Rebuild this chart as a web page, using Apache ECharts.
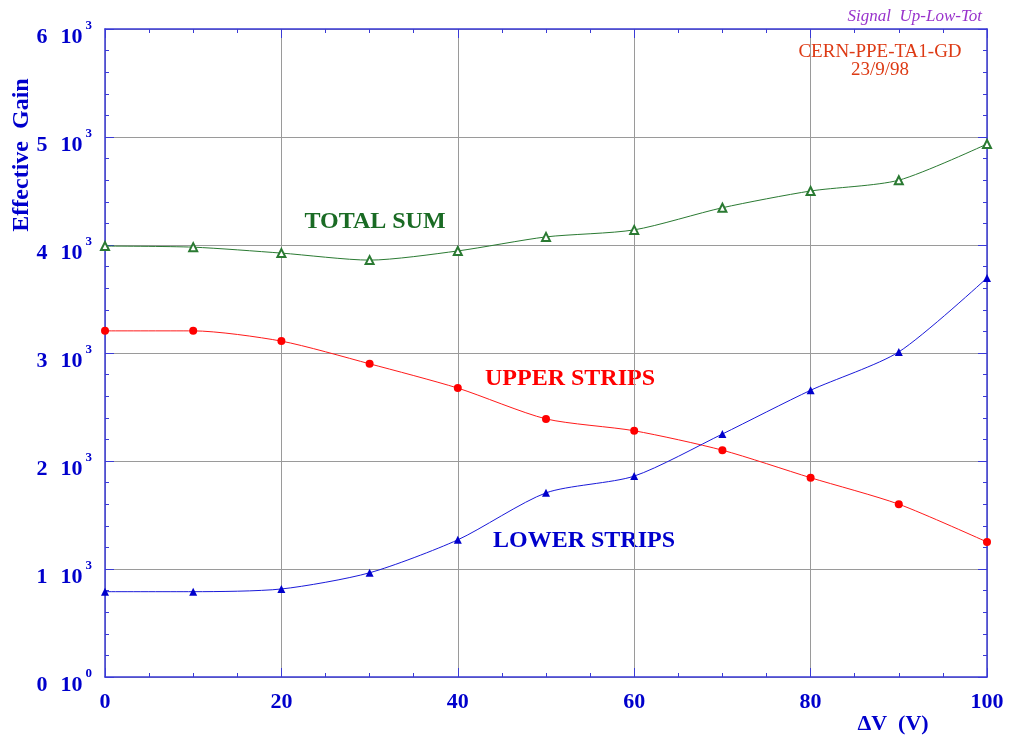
<!DOCTYPE html>
<html>
<head>
<meta charset="utf-8">
<script src="https://cdn.jsdelivr.net/npm/echarts@6/dist/echarts.min.js"></script>
<style>
  html, body { margin: 0; padding: 0; background: #fff; }
  #gainChart { width: 1011px; height: 740px; }
</style>
</head>
<body>
<div id="gainChart"></div>
<script>
// tension (V) on the x axis
var deltaV = [0, 10, 20, 30, 40, 50, 60, 70, 80, 90, 100]
// effective gain
var totalSum = [3990, 3980, 3925, 3860, 3945, 4075, 4140, 4345, 4500, 4600, 4935]
var upperStrips = [3205, 3205, 3110, 2900, 2675, 2390, 2280, 2100, 1845, 1600, 1250]
var lowerStrips = [790, 790, 815, 965, 1270, 1705, 1860, 2250, 2655, 3010, 3695]
// y tick labels: mantissa and exponent of "n 10^e"
var yTickValues = [0, 1000, 2000, 3000, 4000, 5000, 6000]
var yTickMant = ['0', '1', '2', '3', '4', '5', '6']
var yTickExp = ['0', '3', '3', '3', '3', '3', '3']

var axisBlue = '#3a3ad6'
var labelBlue = '#0000cc'
var serif = '"Liberation Serif", "Times New Roman", serif'

function pairs(ys) {
  return deltaV.map(function(x, i) { return [x, ys[i]] })
}

var chart = echarts.init(document.getElementById('gainChart'))

var option = {
  animation: false,
  backgroundColor: '#fff',
  grid: {
    left: 105, right: 24, top: 29, bottom: 63,
    containLabel: false,
    outerBoundsMode: 'none'
  },
  xAxis: [
    {
      type: 'value', min: 0, max: 100, interval: 20,
      axisLine: { show: true, onZero: false, lineStyle: { color: axisBlue, width: 1.5 } },
      axisTick: { show: true, inside: true, length: 9, lineStyle: { color: axisBlue } },
      minorTick: { show: true, splitNumber: 4, length: 4, lineStyle: { color: axisBlue } },
      splitLine: { show: true, lineStyle: { color: '#9a9a9a', width: 1 } },
      axisLabel: {
        margin: 14, color: labelBlue, fontFamily: serif, fontWeight: 'bold', fontSize: 22
      }
    },
    {
      type: 'value', min: 0, max: 100, interval: 20, position: 'top',
      axisLine: { show: true, onZero: false, lineStyle: { color: axisBlue, width: 1.5 } },
      axisTick: { show: true, inside: true, length: 9, lineStyle: { color: axisBlue } },
      minorTick: { show: true, splitNumber: 4, length: 4, lineStyle: { color: axisBlue } },
      splitLine: { show: false },
      axisLabel: { show: false }
    }
  ],
  yAxis: [
    {
      type: 'value', min: 0, max: 6000, interval: 1000,
      axisLine: { show: true, onZero: false, lineStyle: { color: axisBlue, width: 1.5 } },
      axisTick: { show: true, inside: true, length: 9, lineStyle: { color: axisBlue } },
      minorTick: { show: true, splitNumber: 5, length: 4, lineStyle: { color: axisBlue } },
      splitLine: { show: true, lineStyle: { color: '#9a9a9a', width: 1 } },
      axisLabel: {
        margin: 13,
        formatter: function(v) {
          var i = yTickValues.indexOf(v)
          if (i < 0) return ''
          return '{m|' + yTickMant[i] + '}{t|10}{e|' + yTickExp[i] + '}'
        },
        rich: {
          m: { color: labelBlue, fontFamily: serif, fontWeight: 'bold', fontSize: 22, padding: [16, 13, 0, 0] },
          t: { color: labelBlue, fontFamily: serif, fontWeight: 'bold', fontSize: 22, padding: [16, 3, 0, 0] },
          e: { color: labelBlue, fontFamily: serif, fontWeight: 'bold', fontSize: 13, padding: [0, 0, 6, 0] }
        }
      }
    },
    {
      type: 'value', min: 0, max: 6000, interval: 1000, position: 'right',
      axisLine: { show: true, onZero: false, lineStyle: { color: axisBlue, width: 1.5 } },
      axisTick: { show: true, inside: true, length: 9, lineStyle: { color: axisBlue } },
      minorTick: { show: true, splitNumber: 5, length: 4, lineStyle: { color: axisBlue } },
      splitLine: { show: false },
      axisLabel: { show: false }
    }
  ],
  series: [
    {
      name: 'TOTAL SUM', type: 'line', smooth: 0.25,
      data: pairs(totalSum),
      symbol: 'emptyTriangle', symbolSize: 8,
      lineStyle: { color: '#2a7a32', width: 1 },
      itemStyle: { color: '#2a7a32', borderColor: '#2a7a32', borderWidth: 1 },
      z: 3
    },
    {
      name: 'UPPER STRIPS', type: 'line', smooth: 0.25,
      data: pairs(upperStrips),
      symbol: 'circle', symbolSize: 8,
      lineStyle: { color: '#ff1a1a', width: 1 },
      itemStyle: { color: '#ff0000' },
      z: 3
    },
    {
      name: 'LOWER STRIPS', type: 'line', smooth: 0.25,
      data: pairs(lowerStrips),
      symbol: 'triangle', symbolSize: 8,
      lineStyle: { color: '#1a1ad9', width: 1 },
      itemStyle: { color: '#0000cc' },
      z: 3
    }
  ],
  graphic: [
    {
      type: 'text', x: 22, y: 155, rotation: Math.PI / 2,
      style: {
        text: 'Effective  Gain', fill: labelBlue, font: 'bold 24px ' + serif,
        align: 'center', verticalAlign: 'middle'
      }
    },
    {
      type: 'text', x: 893, y: 724,
      style: {
        text: '\u0394V  (V)', fill: labelBlue, font: 'bold 22px ' + serif,
        align: 'center', verticalAlign: 'middle'
      }
    },
    {
      type: 'text', x: 375, y: 222,
      style: {
        text: 'TOTAL SUM', fill: '#1a6b24', font: 'bold 24px ' + serif,
        align: 'center', verticalAlign: 'middle'
      }
    },
    {
      type: 'text', x: 570, y: 379,
      style: {
        text: 'UPPER STRIPS', fill: '#ff0000', font: 'bold 24px ' + serif,
        align: 'center', verticalAlign: 'middle'
      }
    },
    {
      type: 'text', x: 584, y: 541,
      style: {
        text: 'LOWER STRIPS', fill: '#0000cc', font: 'bold 24px ' + serif,
        align: 'center', verticalAlign: 'middle'
      }
    },
    {
      type: 'text', x: 982, y: 17,
      style: {
        text: 'Signal  Up-Low-Tot', fill: '#9933cc', font: 'italic 17px ' + serif,
        align: 'right', verticalAlign: 'middle'
      }
    },
    {
      type: 'text', x: 880, y: 52,
      style: {
        text: 'CERN-PPE-TA1-GD', fill: '#dd3a14', font: '19px ' + serif,
        align: 'center', verticalAlign: 'middle'
      }
    },
    {
      type: 'text', x: 880, y: 70,
      style: {
        text: '23/9/98', fill: '#dd3a14', font: '19px ' + serif,
        align: 'center', verticalAlign: 'middle'
      }
    }
  ]
}

chart.setOption(option)
</script>
</body>
</html>
